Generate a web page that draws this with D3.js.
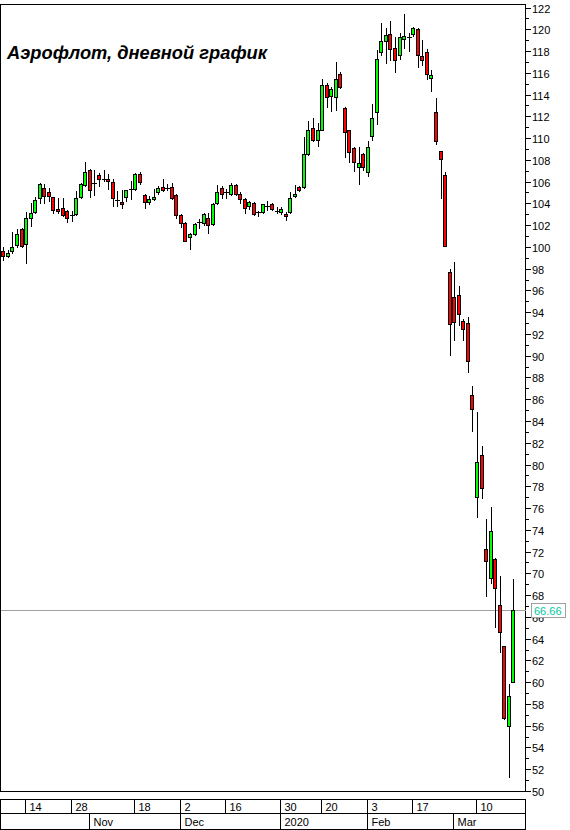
<!DOCTYPE html>
<html><head><meta charset="utf-8">
<script src="https://cdn.jsdelivr.net/npm/d3@7"></script>
<style>body{margin:0;background:#fff} svg{display:block}</style>
</head><body>
<svg id="c" width="570" height="830"></svg>
<script>
// Daily OHLC, Aeroflot (Oct 2019 - Mar 2020)
const opens  = [99.6,99.2,99.6,100.2,101.6,100.3,102.7,103.2,104.5,105.4,105.0,104.6,103.5,103.6,103.3,102.9,103.0,104.6,105.7,107.1,
                105.9,106.6,106.2,106.2,106.0,104.3,104.1,104.6,105.3,105.3,106.7,104.8,104.1,104.4,105.0,105.5,105.4,105.5,104.8,102.9,
                102.2,100.9,101.2,102.3,102.2,102.7,102.1,104.0,105.4,105.0,104.9,105.7,104.9,104.4,103.8,104.0,103.2,103.2,103.8,103.9,
                103.3,103.2,103.0,103.2,104.7,105.5,105.5,108.5,110.9,109.8,110.7,114.9,113.9,113.8,115.9,112.8,110.7,109.1,107.3,108.5,
                106.9,110.2,112.4,117.9,118.9,119.6,118.3,117.6,119.1,119.3,119.6,120.0,117.5,117.9,115.5,112.4,108.8,106.6,97.7,95.4,
                95.6,93.2,93.0,86.4,77.0,80.9,72.2,69.6,71.3,67.1,63.3,56.0,60.0];
const highs  = [100.0,99.7,101.4,101.6,101.7,103.2,104.0,104.6,105.9,105.8,105.4,104.6,104.5,104.5,103.4,103.3,105.1,105.9,107.8,107.2,
                107.1,106.8,107.1,106.7,106.2,105.1,105.2,105.2,106.1,106.8,106.9,104.9,104.7,105.3,105.6,106.2,105.8,105.9,104.9,103.0,
                102.3,101.3,102.2,102.6,103.1,103.1,104.0,105.7,105.6,105.3,105.9,105.8,105.0,104.5,104.2,104.1,103.3,103.9,104.2,104.0,
                103.7,103.7,103.2,105.0,105.7,105.6,110.1,111.6,111.8,111.4,115.4,115.1,114.7,117.0,116.1,112.9,110.7,109.2,109.2,108.6,
                109.7,113.1,118.1,120.6,120.1,120.8,119.3,119.7,121.4,119.7,120.2,120.1,119.0,118.2,116.3,113.7,108.8,106.9,98.0,98.6,
                96.4,93.4,93.6,87.2,84.8,81.7,75.0,76.1,71.4,69.8,63.3,59.8,69.5];
const lows   = [98.8,99.1,99.4,100.0,100.0,98.5,101.9,103.1,104.0,104.0,104.2,103.1,103.1,102.8,102.3,102.4,102.9,104.5,105.6,104.6,
                104.8,105.6,106.1,105.3,103.8,103.8,103.6,104.2,104.4,105.2,105.8,103.6,103.9,104.3,104.9,105.1,105.2,104.4,102.7,101.8,
                100.5,99.8,101.1,101.7,102.0,101.3,102.0,103.9,104.5,104.5,104.8,104.8,104.0,103.1,103.5,102.9,102.8,103.1,103.4,103.4,
                103.1,103.0,102.5,103.1,104.6,105.1,105.4,108.4,109.7,109.3,110.7,112.9,112.5,112.6,114.6,108.3,107.8,107.0,105.8,107.1,
                106.5,109.8,111.3,117.6,116.9,117.2,116.1,117.3,118.3,118.0,119.4,116.5,116.7,115.4,114.3,109.5,104.5,100.1,90.1,91.4,
                92.8,91.4,88.5,83.1,75.2,76.9,67.9,69.1,65.1,62.8,56.6,51.3,60.0];
const closes = [99.2,99.4,100.0,101.2,100.1,102.7,103.1,104.3,105.8,104.7,104.7,103.4,103.3,102.9,102.7,102.9,104.5,105.8,106.9,105.2,
                105.9,106.2,106.2,106.1,104.5,104.3,103.9,105.2,105.3,106.7,106.0,104.1,104.4,104.6,105.4,105.2,105.3,104.5,102.9,102.2,
                100.5,101.2,102.1,102.2,103.0,102.0,103.9,105.0,104.9,105.0,105.7,104.9,104.4,103.6,104.1,103.0,103.2,103.9,103.7,103.5,
                103.3,103.5,102.8,104.5,104.9,105.2,108.5,110.7,109.8,110.7,114.9,113.8,114.5,115.4,114.7,110.6,108.7,107.8,107.7,107.3,
                109.2,111.8,117.3,118.9,119.5,118.2,117.2,119.3,119.4,119.3,120.1,117.6,117.2,115.9,115.8,109.7,108.1,100.1,92.9,93.1,
                93.8,92.5,89.5,85.1,80.2,77.8,71.1,73.9,68.7,64.6,56.7,58.7,66.66];

const priceTicks  = [50,52,54,56,58,60,62,64,66,68,70,72,74,76,78,80,82,84,86,88,90,92,94,96,98,100,102,104,106,108,110,112,114,116,118,120,122];
const dayLabels   = ["14","28","18","2","16","30","20","3","17","10"];
const dayIndex    = [5,15,29,39,49,61,70,80,90,104];
const monthLabels = ["Nov","Dec","2020","Feb","Mar"];
const monthIndex  = [19,39,61,80,99];
const lastPrice   = 66.66;
const title       = "Аэрофлот, дневной график";

const svg = d3.select("#c");
const W = 570, H = 830;
const plotL = 0.5, plotR = 525.5, plotT = 4.5, plotB = 791.5;
const n = closes.length;

const x = d3.scaleLinear().domain([0, n - 1]).range([3.3, 3.3 + 4.555 * (n - 1)]);
const y = d3.scaleLinear().domain([50, 122]).range([791, 7.5]);

const FONT = "'Liberation Sans', Arial, sans-serif";

// frame
svg.append("rect").attr("x", plotL).attr("y", plotT).attr("width", plotR - plotL).attr("height", plotB - plotT)
  .attr("fill", "none").attr("stroke", "#000").attr("stroke-width", 1).attr("shape-rendering", "crispEdges");

// last price line
const yl = Math.round(y(lastPrice)) + 0.5;
svg.append("line").attr("x1", 1).attr("x2", plotR).attr("y1", yl).attr("y2", yl)
  .attr("stroke", "#a0a0a0").attr("stroke-width", 1).attr("shape-rendering", "crispEdges");

// candles
const g = svg.append("g").attr("shape-rendering", "crispEdges");
const idx = d3.range(n);
g.selectAll("line.wick").data(idx).join("line").attr("class", "wick")
  .attr("x1", i => Math.round(x(i)) + 0.5).attr("x2", i => Math.round(x(i)) + 0.5)
  .attr("y1", i => Math.round(y(highs[i]))).attr("y2", i => Math.round(y(lows[i])) + 1)
  .attr("stroke", "#000").attr("stroke-width", 1);

idx.forEach(i => {
  const cx = Math.round(x(i));
  const top = Math.round(y(Math.max(opens[i], closes[i])));
  const bot = Math.round(y(Math.min(opens[i], closes[i])));
  if (bot - top < 2) {
    g.append("line").attr("x1", cx - 2).attr("x2", cx + 3).attr("y1", top + 0.5).attr("y2", top + 0.5)
      .attr("stroke", "#000").attr("stroke-width", 1);
  } else {
    g.append("rect").attr("x", cx - 1.5).attr("y", top + 0.5).attr("width", 3).attr("height", bot - top)
      .attr("fill", closes[i] >= opens[i] ? "#00ff00" : "#ff0000")
      .attr("stroke", "#000").attr("stroke-width", 1);
  }
});

// right axis
const ay = svg.append("g").attr("shape-rendering", "crispEdges");
priceTicks.forEach(v => {
  const yy = Math.round(y(v)) + 0.5;
  ay.append("line").attr("x1", plotR).attr("x2", plotR + 5).attr("y1", yy).attr("y2", yy).attr("stroke", "#000");
  if (v < 122) {
    const ym = Math.round(y(v + 1)) + 0.5;
    ay.append("line").attr("x1", plotR).attr("x2", plotR + 3).attr("y1", ym).attr("y2", ym).attr("stroke", "#000");
  }
  svg.append("text").attr("x", 532).attr("y", yy + 4).attr("font-family", FONT).attr("font-size", 11)
    .attr("fill", "#000").text(v);
});

// last price label
svg.append("rect").attr("x", 531.5).attr("y", yl - 7).attr("width", 34).attr("height", 14)
  .attr("fill", "#fff").attr("stroke", "#a0a0a0").attr("shape-rendering", "crispEdges");
svg.append("text").attr("x", 534).attr("y", yl + 4).attr("font-family", FONT).attr("font-size", 11)
  .attr("fill", "#00c8a0").text(lastPrice.toFixed(2));

// bottom date axis
const bx = svg.append("g").attr("shape-rendering", "crispEdges");
const r1 = 799.5, r2 = 813.5, r3 = 829.5;
bx.append("rect").attr("x", plotL).attr("y", r1).attr("width", plotR - plotL).attr("height", r3 - r1)
  .attr("fill", "none").attr("stroke", "#000");
bx.append("line").attr("x1", plotL).attr("x2", plotR).attr("y1", r2).attr("y2", r2).attr("stroke", "#000");
dayIndex.forEach((d, k) => {
  const xx = Math.round(x(d)) - 0.5;
  bx.append("line").attr("x1", xx).attr("x2", xx).attr("y1", r1).attr("y2", r2).attr("stroke", "#000");
  svg.append("text").attr("x", xx + 4).attr("y", r2 - 3).attr("font-family", FONT).attr("font-size", 11).text(dayLabels[k]);
});
monthIndex.forEach((d, k) => {
  const xx = Math.round(x(d)) - 0.5;
  bx.append("line").attr("x1", xx).attr("x2", xx).attr("y1", r2).attr("y2", r3).attr("stroke", "#000");
  svg.append("text").attr("x", xx + 4).attr("y", r3 - 4).attr("font-family", FONT).attr("font-size", 11).text(monthLabels[k]);
});

// title
svg.append("text").attr("x", 7).attr("y", 59).attr("font-family", FONT).attr("font-size", 19)
  .attr("font-weight", "bold").attr("font-style", "italic").attr("fill", "#000")
  .attr("textLength", 260).attr("lengthAdjust", "spacingAndGlyphs").text(title);
</script>
</body></html>
